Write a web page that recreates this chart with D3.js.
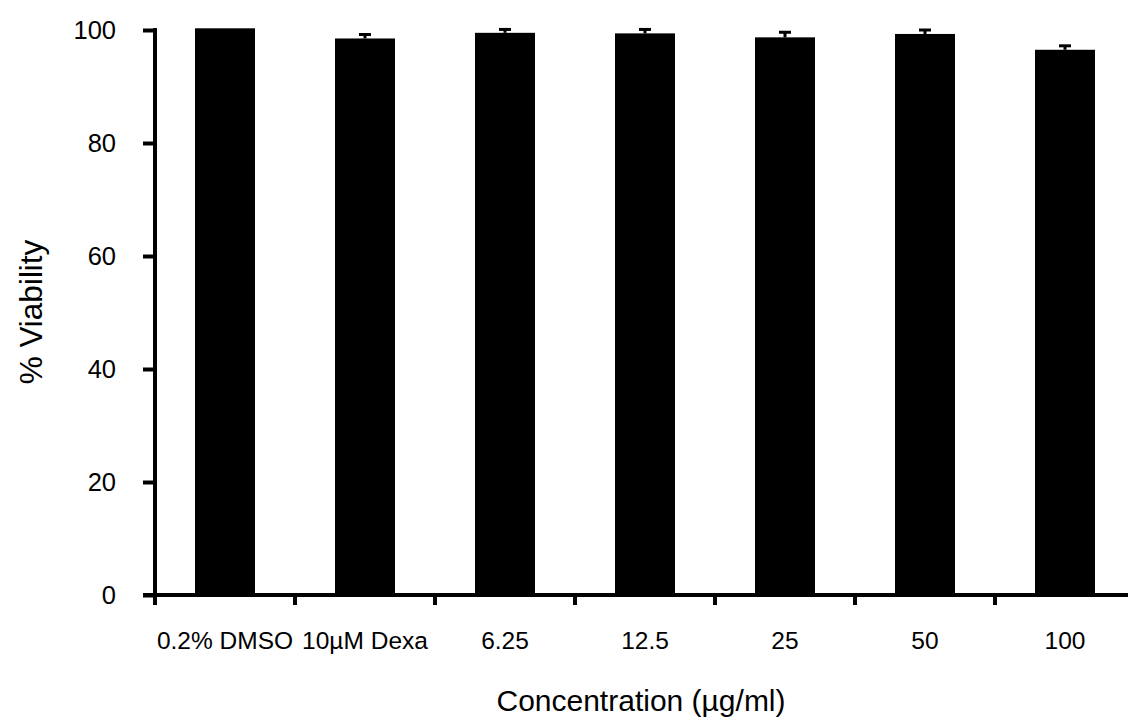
<!DOCTYPE html>
<html>
<head>
<meta charset="utf-8">
<script src="https://cdn.jsdelivr.net/npm/d3@7"></script>
<style>
  html, body { margin: 0; padding: 0; background: #fff; }
  svg { display: block; }
  text { font-family: "Liberation Sans", Arial, sans-serif; fill: #000; }
</style>
</head>
<body>
<svg id="chart" width="1128" height="720"></svg>
<script>
const categories = ["0.2% DMSO", "10µM Dexa", "6.25", "12.5", "25", "50", "100"];
const viability = [100.3, 98.5, 99.5, 99.4, 98.7, 99.3, 96.5];
const errors = [0, 0.7, 0.6, 0.7, 0.9, 0.7, 0.7];
const yTicks = [0, 20, 40, 60, 80, 100];
const xTitle = "Concentration (µg/ml)";
const yTitle = "% Viability";

const svg = d3.select("#chart");
const W = 1128, H = 720;
const mLeft = 155, mRight = 1135, mTop = 30, mBottom = 595;

const x = d3.scaleBand().domain(categories).range([mLeft, mRight])
  .paddingInner(4 / 7).paddingOuter(2 / 7);
const y = d3.scaleLinear().domain([0, 100]).range([mBottom, mTop]);

// bars
svg.append("g").selectAll("rect").data(categories).join("rect")
  .attr("x", d => x(d))
  .attr("y", (d, i) => y(viability[i]))
  .attr("width", x.bandwidth())
  .attr("height", (d, i) => y(0) - y(viability[i]))
  .attr("fill", "#000");

// error bars (upper)
const eb = svg.append("g").attr("stroke", "#000").attr("stroke-width", 3);
categories.forEach((c, i) => {
  if (errors[i] <= 0) return;
  const cx = x(c) + x.bandwidth() / 2;
  eb.append("line").attr("x1", cx).attr("x2", cx)
    .attr("y1", y(viability[i])).attr("y2", y(viability[i] + errors[i]));
  eb.append("line").attr("x1", cx - 6).attr("x2", cx + 6)
    .attr("y1", y(viability[i] + errors[i])).attr("y2", y(viability[i] + errors[i]));
});

// y axis
const yAxis = d3.axisLeft(y).tickValues(yTicks).tickSize(12).tickPadding(27).tickSizeOuter(0);
const gy = svg.append("g").attr("transform", `translate(${mLeft},0)`).call(yAxis);
gy.select(".domain").remove();
gy.selectAll(".tick line").attr("stroke", "#000").attr("stroke-width", 4);
gy.selectAll(".tick text").attr("font-size", 25.5).attr("font-family", "Liberation Sans, Arial, sans-serif").attr("fill", "#000");
svg.append("line").attr("x1", mLeft).attr("x2", mLeft)
  .attr("y1", y(100) - 2).attr("y2", mBottom + 2)
  .attr("stroke", "#000").attr("stroke-width", 4);

// x axis line
svg.append("line").attr("x1", mLeft - 12).attr("x2", W)
  .attr("y1", mBottom).attr("y2", mBottom)
  .attr("stroke", "#000").attr("stroke-width", 4);

// x ticks at category boundaries
const boundaries = categories.map(c => x(c) - x.step() * (2 / 7));
svg.append("g").selectAll("line").data(boundaries).join("line")
  .attr("x1", d => d).attr("x2", d => d)
  .attr("y1", mBottom).attr("y2", mBottom + 10)
  .attr("stroke", "#000").attr("stroke-width", 4);

// x tick labels
svg.append("g").selectAll("text").data(categories).join("text")
  .attr("x", d => x(d) + x.bandwidth() / 2)
  .attr("y", 649)
  .attr("text-anchor", "middle")
  .attr("font-size", 24.5)
  .text(d => d);

// titles
svg.append("text").attr("x", 641).attr("y", 711)
  .attr("text-anchor", "middle").attr("font-size", 30).text(xTitle);
svg.append("text").attr("transform", "translate(42,312) rotate(-90)")
  .attr("text-anchor", "middle").attr("font-size", 31.5).text(yTitle);
</script>
</body>
</html>
